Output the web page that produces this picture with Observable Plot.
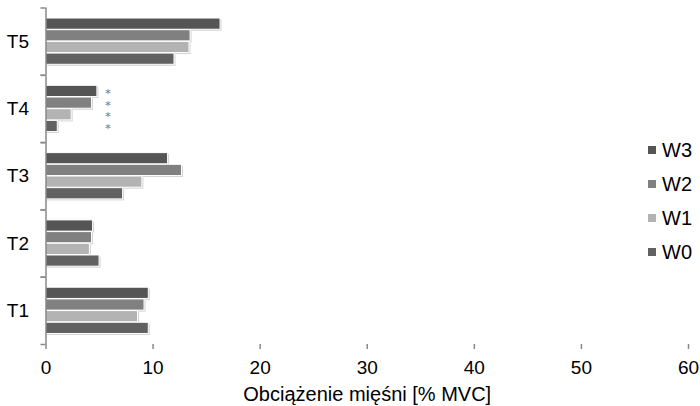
<!DOCTYPE html>
<html>
<head>
<meta charset="utf-8">
<script src="https://cdn.jsdelivr.net/npm/d3@7"></script>
<script src="https://cdn.jsdelivr.net/npm/@observablehq/plot@0.6"></script>
<style>
  html, body { margin: 0; padding: 0; background: #fff; }
  #wrap { position: relative; width: 700px; height: 406px; font-family: "Liberation Sans", Arial, sans-serif; }
  #legend { position: absolute; left: 648px; top: 133px; }
  .li { display: flex; align-items: center; height: 34px; font-size: 20px; color: #000; }
  .sw { width: 8px; height: 8px; margin-right: 6px; }
</style>
</head>
<body>
<div id="wrap"><div id="chart"></div><div id="legend"></div></div>
<script>
// Categories (top to bottom) and series (top to bottom within group)
const categories = ["T5", "T4", "T3", "T2", "T1"];
const series = ["W3", "W2", "W1", "W0"];
const W3 = [16.3, 4.8, 11.4, 4.4, 9.6];
const W2 = [13.5, 4.3, 12.7, 4.3, 9.2];
const W1 = [13.4, 2.4, 9.0, 4.1, 8.6];
const W0 = [12.0, 1.1, 7.2, 5.0, 9.6];
const seriesColors = ["#555555", "#808080", "#b3b3b3", "#616161"];
const xTicks = [0, 10, 20, 30, 40, 50, 60];
const starCategory = "T4";
const starSeries = ["W3", "W2", "W1", "W0"];

const values = {W3, W2, W1, W0};
const data = [];
categories.forEach((c, i) => series.forEach(s => data.push({cat: c, ser: s, v: values[s][i]})));
const starX = d3.max(data.filter(d => d.cat === starCategory), d => d.v) + 1.0;
const stars = starSeries.map(s => ({cat: starCategory, ser: s, x: starX}));

const mTop = 7.5, mBottom = 62;
const band = (406 - mTop - mBottom) / categories.length;

const plot = Plot.plot({
  width: 700,
  height: 406,
  marginLeft: 45.5,
  marginRight: 12,
  marginTop: mTop,
  marginBottom: mBottom,
  style: {fontFamily: "Liberation Sans, Arial, sans-serif", fontSize: "19px", background: "white", overflow: "visible"},
  x: {domain: [0, 60]},
  y: {domain: series, paddingInner: 0.04, paddingOuter: 0.9, round: false, axis: null},
  fy: {domain: categories, padding: 0, round: false},
  color: {domain: series, range: seriesColors},
  marks: [
    Plot.barX(data, {fy: "cat", y: "ser", x: "v", fill: "#d4d4d4", dx: 1.5, dy: 1.5}),
    Plot.barX(data, {fy: "cat", y: "ser", x: "v", fill: "ser", stroke: "white", strokeWidth: 1}),
    Plot.text(stars, {fy: "cat", y: "ser", x: "x", text: () => "*", fill: "#777", fontSize: 11, fontFamily: "DejaVu Serif, serif", dy: 2}),
    Plot.ruleX([0], {stroke: "#888", strokeWidth: 1.5}),
    Plot.axisFy({anchor: "left", tickSize: 0, tickPadding: 17, fontSize: 19, fill: "black", label: null}),
    Plot.axisFy({anchor: "left", tickSize: 5, stroke: "#888", strokeWidth: 1.5, tickFormat: () => "", dy: -band / 2, label: null}),
    Plot.axisFy({anchor: "left", tickSize: 5, stroke: "#888", strokeWidth: 1.5, tickFormat: () => "", dy: band / 2, label: null}),
    Plot.axisX({anchor: "bottom", ticks: xTicks, tickSize: 5, tickPadding: 11, stroke: "#888", strokeWidth: 1.5, fill: "black", fontSize: 19, line: true,
      label: null}),
    Plot.axisX({anchor: "bottom", ticks: [], tickSize: 0, fontSize: 20, fill: "black",
      label: "Obciążenie mięśni [% MVC]", labelAnchor: "center", labelArrow: false, labelOffset: 56})
  ]
});
document.getElementById("chart").appendChild(plot);

const legend = document.getElementById("legend");
series.forEach((s, i) => {
  const row = document.createElement("div");
  row.className = "li";
  const sw = document.createElement("span");
  sw.className = "sw";
  sw.style.background = seriesColors[i];
  const t = document.createElement("span");
  t.textContent = s;
  row.appendChild(sw);
  row.appendChild(t);
  legend.appendChild(row);
});
</script>
</body>
</html>
